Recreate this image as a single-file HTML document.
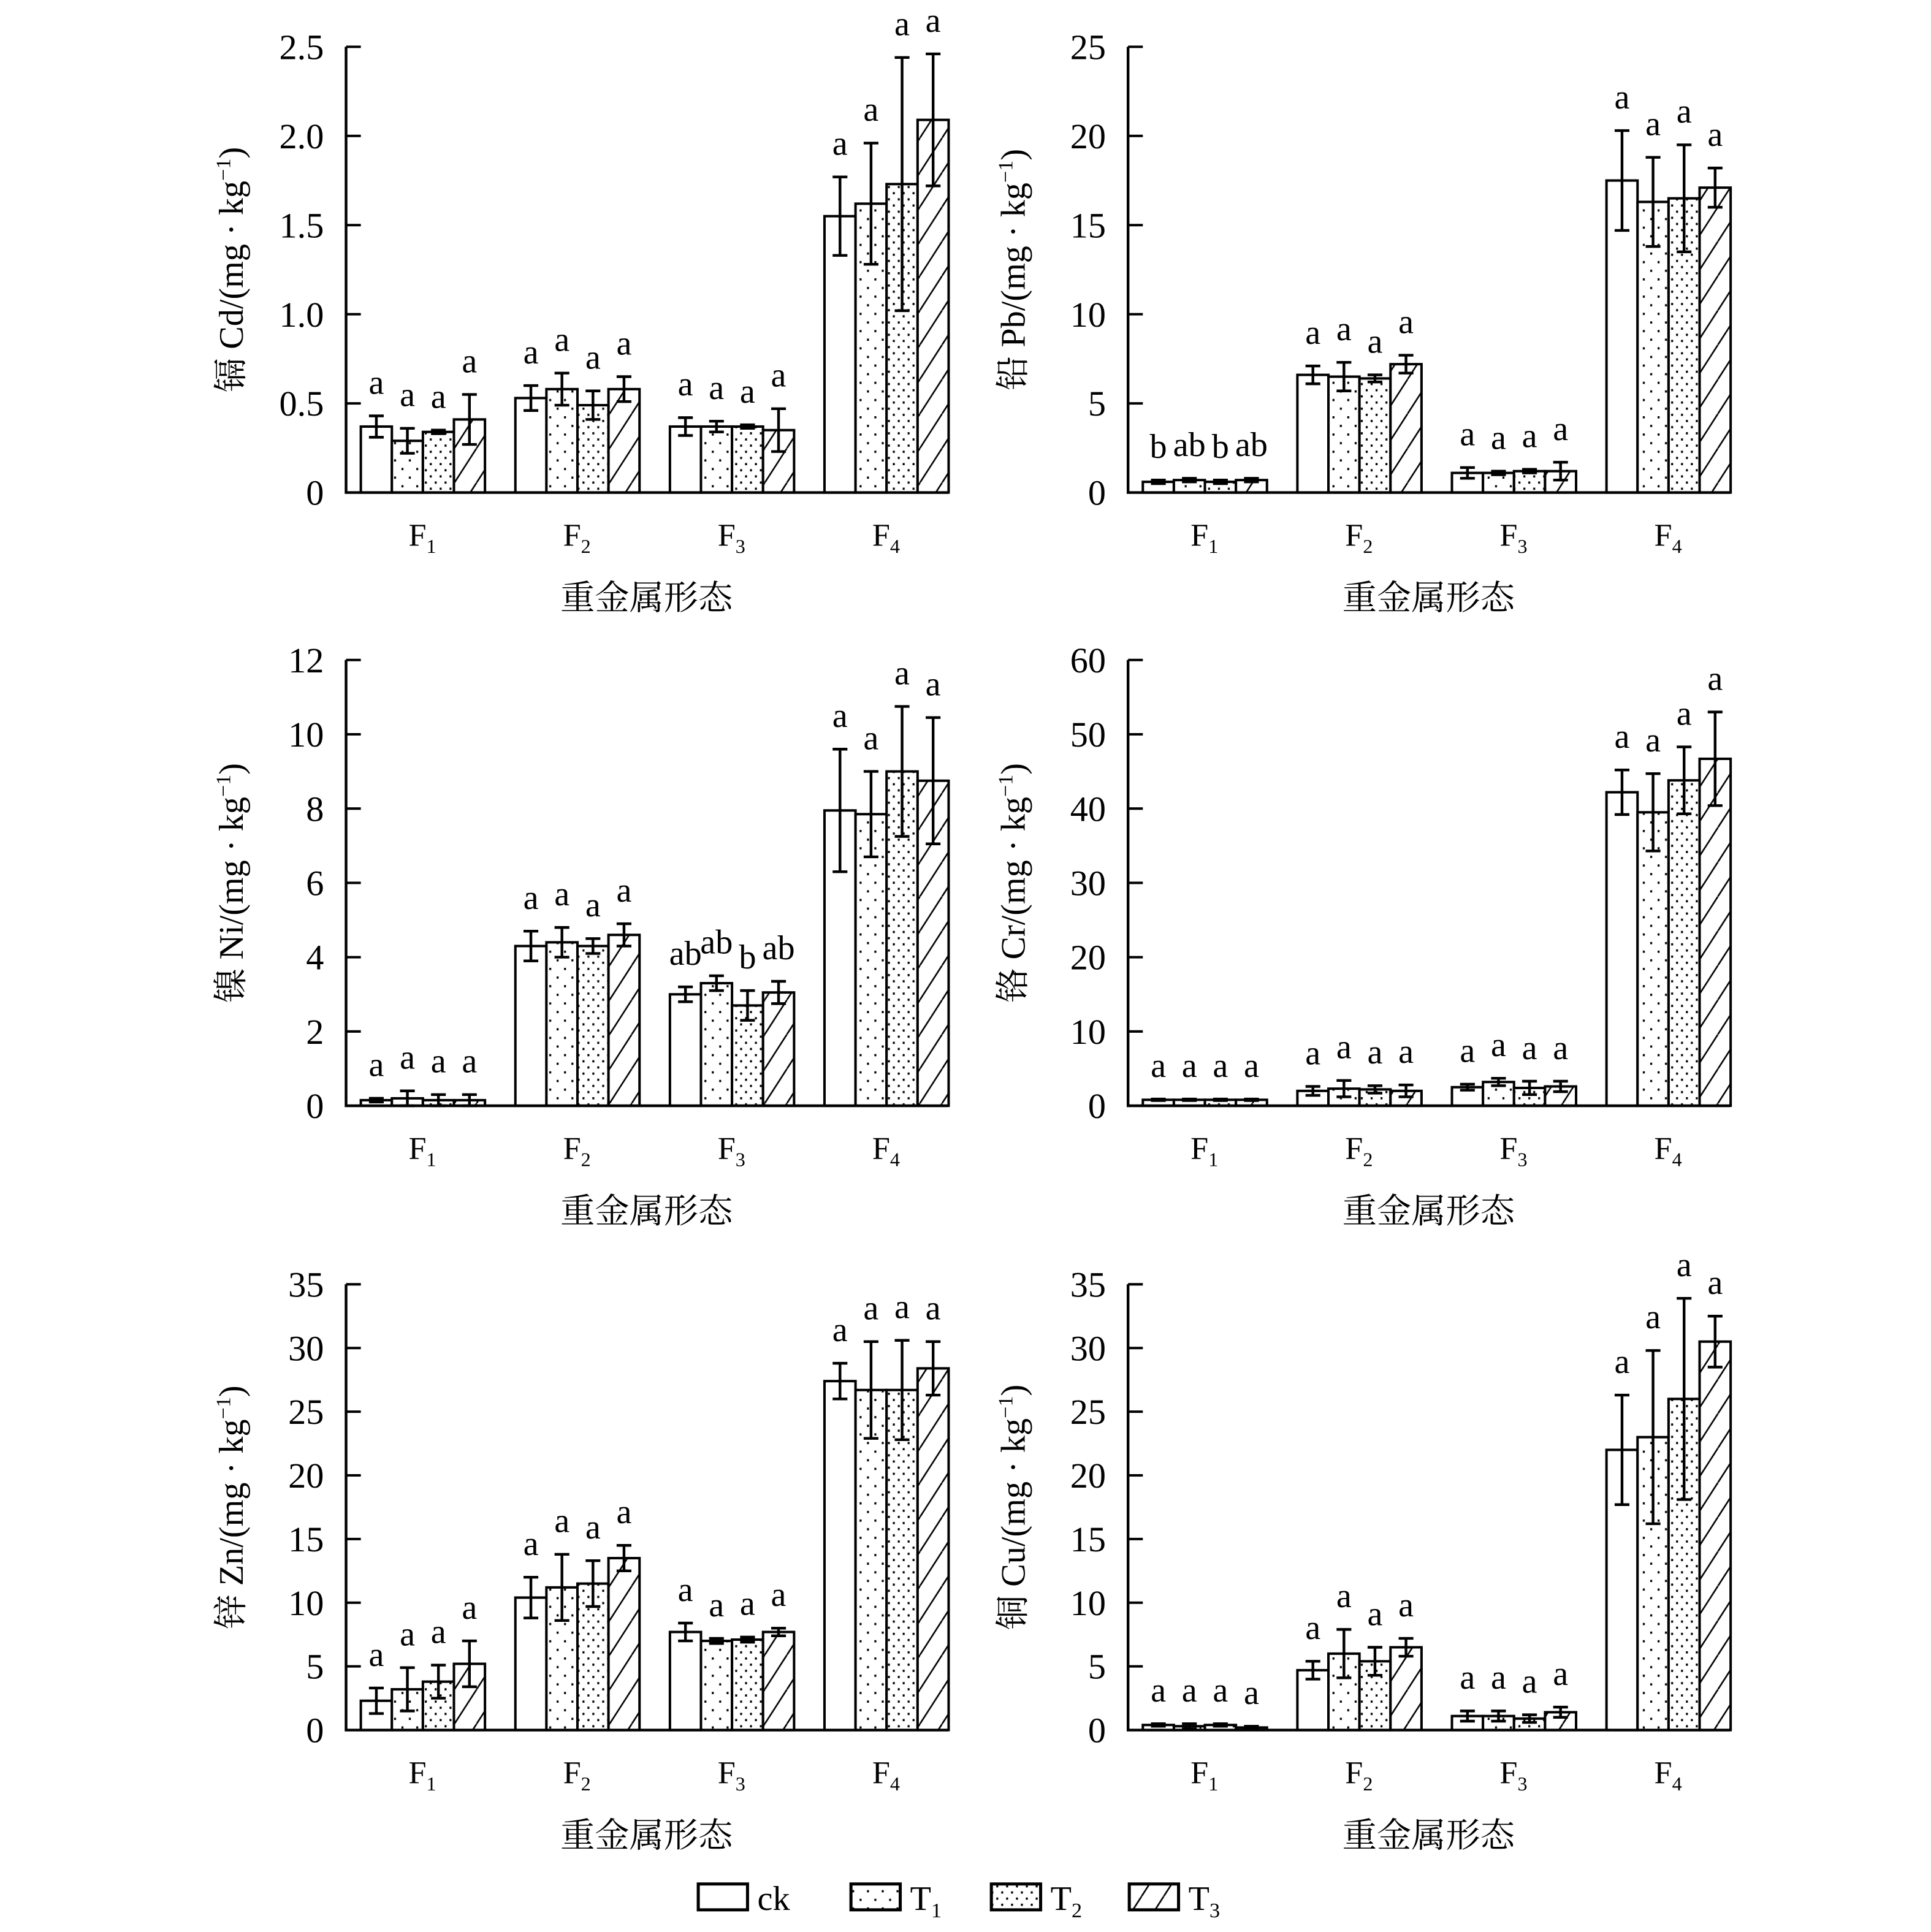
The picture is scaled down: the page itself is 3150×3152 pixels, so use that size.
<!DOCTYPE html>
<html><head><meta charset="utf-8"><style>html,body{margin:0;padding:0;background:#fff}svg{display:block}</style></head>
<body>
<svg id="s" xmlns="http://www.w3.org/2000/svg" width="3150" height="3152" viewBox="0 0 1568 1569" preserveAspectRatio="none" font-family="'Liberation Serif','Noto Serif CJK SC',serif">
<defs>
<pattern id="p1" patternUnits="userSpaceOnUse" width="12" height="14"><rect width="12" height="14" fill="#fff"/><rect x="2" y="2" width="1.6" height="1.8" fill="#000"/><rect x="8" y="9" width="1.6" height="1.8" fill="#000"/></pattern>
<pattern id="p2" patternUnits="userSpaceOnUse" width="8" height="10"><rect width="8" height="10" fill="#fff"/><rect x="1" y="1" width="1.6" height="1.8" fill="#000"/><rect x="5" y="6" width="1.6" height="1.8" fill="#000"/></pattern>
<pattern id="p3" patternUnits="userSpaceOnUse" width="18" height="28"><rect width="18" height="28" fill="#fff"/><path d="M-9,28 L9,0 M9,28 L27,0" stroke="#000" stroke-width="1.3"/></pattern>
</defs>
<g id="g"></g>
</svg>
<script>
var NS="http://www.w3.org/2000/svg",G=document.getElementById('g');
function el(t,a,txt){var e=document.createElementNS(NS,t);for(var k in a)e.setAttribute(k,a[k]);if(txt!=null)e.textContent=txt;G.appendChild(e);return e;}
var fills=['#fff','url(#p1)','url(#p2)','url(#p3)'];
var panels=[
{ox:281,top:38,zero:400,max:2.5,ticks:['0','0.5','1.0','1.5','2.0','2.5'],lab:'镉 Cd/(mg · kg',
d:[[[.37,.06,'a'],[.29,.07,'a'],[.34,.01,'a'],[.41,.14,'a']],[[.53,.07,'a'],[.58,.09,'a'],[.49,.08,'a'],[.58,.07,'a']],[[.37,.05,'a'],[.37,.03,'a'],[.37,.01,'a'],[.35,.12,'a']],[[1.55,.22,'a'],[1.62,.34,'a'],[1.73,.71,'a'],[2.09,.37,'a']]]},
{ox:916,top:38,zero:400,max:25,ticks:['0','5','10','15','20','25'],lab:'铅 Pb/(mg · kg',
d:[[[.6,.1,'b'],[.7,.1,'ab'],[.6,.1,'b'],[.7,.1,'ab']],[[6.6,.5,'a'],[6.5,.8,'a'],[6.4,.2,'a'],[7.2,.5,'a']],[[1.1,.3,'a'],[1.1,.1,'a'],[1.2,.1,'a'],[1.2,.5,'a']],[[17.5,2.8,'a'],[16.3,2.5,'a'],[16.5,3,'a'],[17.1,1.1,'a']]]},
{ox:281,top:536,zero:898,max:12,ticks:['0','2','4','6','8','10','12'],lab:'镍 Ni/(mg · kg',
d:[[[.15,.05,'a'],[.2,.2,'a'],[.15,.15,'a'],[.15,.15,'a']],[[4.3,.4,'a'],[4.4,.4,'a'],[4.3,.2,'a'],[4.6,.3,'a']],[[3,.2,'ab'],[3.3,.2,'ab'],[2.7,.4,'b'],[3.05,.3,'ab']],[[7.95,1.65,'a'],[7.85,1.15,'a'],[9,1.75,'a'],[8.75,1.7,'a']]]},
{ox:916,top:536,zero:898,max:60,ticks:['0','10','20','30','40','50','60'],lab:'铬 Cr/(mg · kg',
d:[[[.8,.1,'a'],[.8,.1,'a'],[.8,.1,'a'],[.8,.1,'a']],[[2,.6,'a'],[2.3,1.1,'a'],[2.2,.5,'a'],[2,.8,'a']],[[2.5,.4,'a'],[3.2,.5,'a'],[2.4,.9,'a'],[2.6,.7,'a']],[[42.2,3,'a'],[39.5,5.2,'a'],[43.8,4.5,'a'],[46.7,6.3,'a']]]},
{ox:281,top:1043,zero:1405,max:35,ticks:['0','5','10','15','20','25','30','35'],lab:'锌 Zn/(mg · kg',
d:[[[2.3,1,'a'],[3.2,1.7,'a'],[3.8,1.3,'a'],[5.2,1.8,'a']],[[10.4,1.6,'a'],[11.2,2.6,'a'],[11.5,1.8,'a'],[13.5,1,'a']],[[7.7,.7,'a'],[7,.2,'a'],[7.1,.2,'a'],[7.7,.3,'a']],[[27.4,1.4,'a'],[26.7,3.8,'a'],[26.7,3.9,'a'],[28.4,2.1,'a']]]},
{ox:916,top:1043,zero:1405,max:35,ticks:['0','5','10','15','20','25','30','35'],lab:'铜 Cu/(mg · kg',
d:[[[.4,.1,'a'],[.3,.2,'a'],[.4,.1,'a'],[.2,.1,'a']],[[4.7,.7,'a'],[6,1.9,'a'],[5.4,1.1,'a'],[6.5,.7,'a']],[[1.1,.4,'a'],[1.1,.4,'a'],[.9,.3,'a'],[1.4,.4,'a']],[[22,4.3,'a'],[23,6.8,'a'],[26,7.9,'a'],[30.5,2,'a']]]}
];
panels.forEach(function(p){
 var H=p.zero-p.top;function Y(v){return p.zero-v/p.max*H;}
 var n=p.ticks.length-1;
 p.ticks.forEach(function(t,i){var y=p.zero-i*H/n;
  if(i>0)el('line',{x1:p.ox,x2:p.ox+12,y1:y,y2:y,stroke:'#000','stroke-width':2});
  el('text',{x:p.ox-18,y:y+10,'font-size':29,'text-anchor':'end'},t);});
 p.d.forEach(function(g,gi){g.forEach(function(b,bi){
  var x=p.ox+12+gi*125.5+bi*25.2,y=Y(b[0]);
  el('rect',{x:x,y:y,width:25.2,height:p.zero-y,fill:fills[bi],stroke:'#000','stroke-width':2});
  var cx=x+12.6,t=Y(b[0]+b[1]),bo=Y(Math.max(0,b[0]-b[1]));
  el('path',{d:'M'+cx+','+t+'V'+bo+'M'+(cx-6)+','+t+'h12M'+(cx-6)+','+bo+'h12',stroke:'#000','stroke-width':2.2,fill:'none'});
  el('text',{x:cx,y:t-18,'font-size':28,'text-anchor':'middle'},b[2]);
 });
  var tx=el('text',{x:p.ox+62+gi*125.5,y:p.zero+43,'font-size':26,'text-anchor':'middle'},'F');
  var ts=document.createElementNS(NS,'tspan');ts.setAttribute('font-size',16);ts.setAttribute('dy',6);ts.textContent=String(gi+1);tx.appendChild(ts);
 });
 el('path',{d:'M'+p.ox+','+p.top+'V'+p.zero+'H'+(p.ox+489),stroke:'#000','stroke-width':2.2,fill:'none'});
 el('text',{x:p.ox+244,y:p.zero+95,'font-size':28,'text-anchor':'middle'},'重金属形态');
 var yl=el('text',{x:0,y:0,'font-size':28,'text-anchor':'middle',transform:'translate('+(p.ox-84)+','+(p.top+181)+') rotate(-90)'},p.lab);
 var sp=document.createElementNS(NS,'tspan');sp.setAttribute('font-size',17);sp.setAttribute('dy',-10);sp.textContent='−1';yl.appendChild(sp);
 var sp2=document.createElementNS(NS,'tspan');sp2.setAttribute('dy',10);sp2.textContent=')';yl.appendChild(sp2);
});
[[567,'ck',0],[691,'T',1],[805,'T',2],[917,'T',3]].forEach(function(l,i){
 el('rect',{x:l[0],y:1530,width:40,height:21,fill:fills[i],stroke:'#000','stroke-width':2.5});
 var t=el('text',{x:l[0]+48,y:1551,'font-size':28},l[1]);
 if(l[2]){var s=document.createElementNS(NS,'tspan');s.setAttribute('font-size',17);s.setAttribute('dy',6);s.textContent=l[2];t.appendChild(s);}
});
</script>
</body></html>
